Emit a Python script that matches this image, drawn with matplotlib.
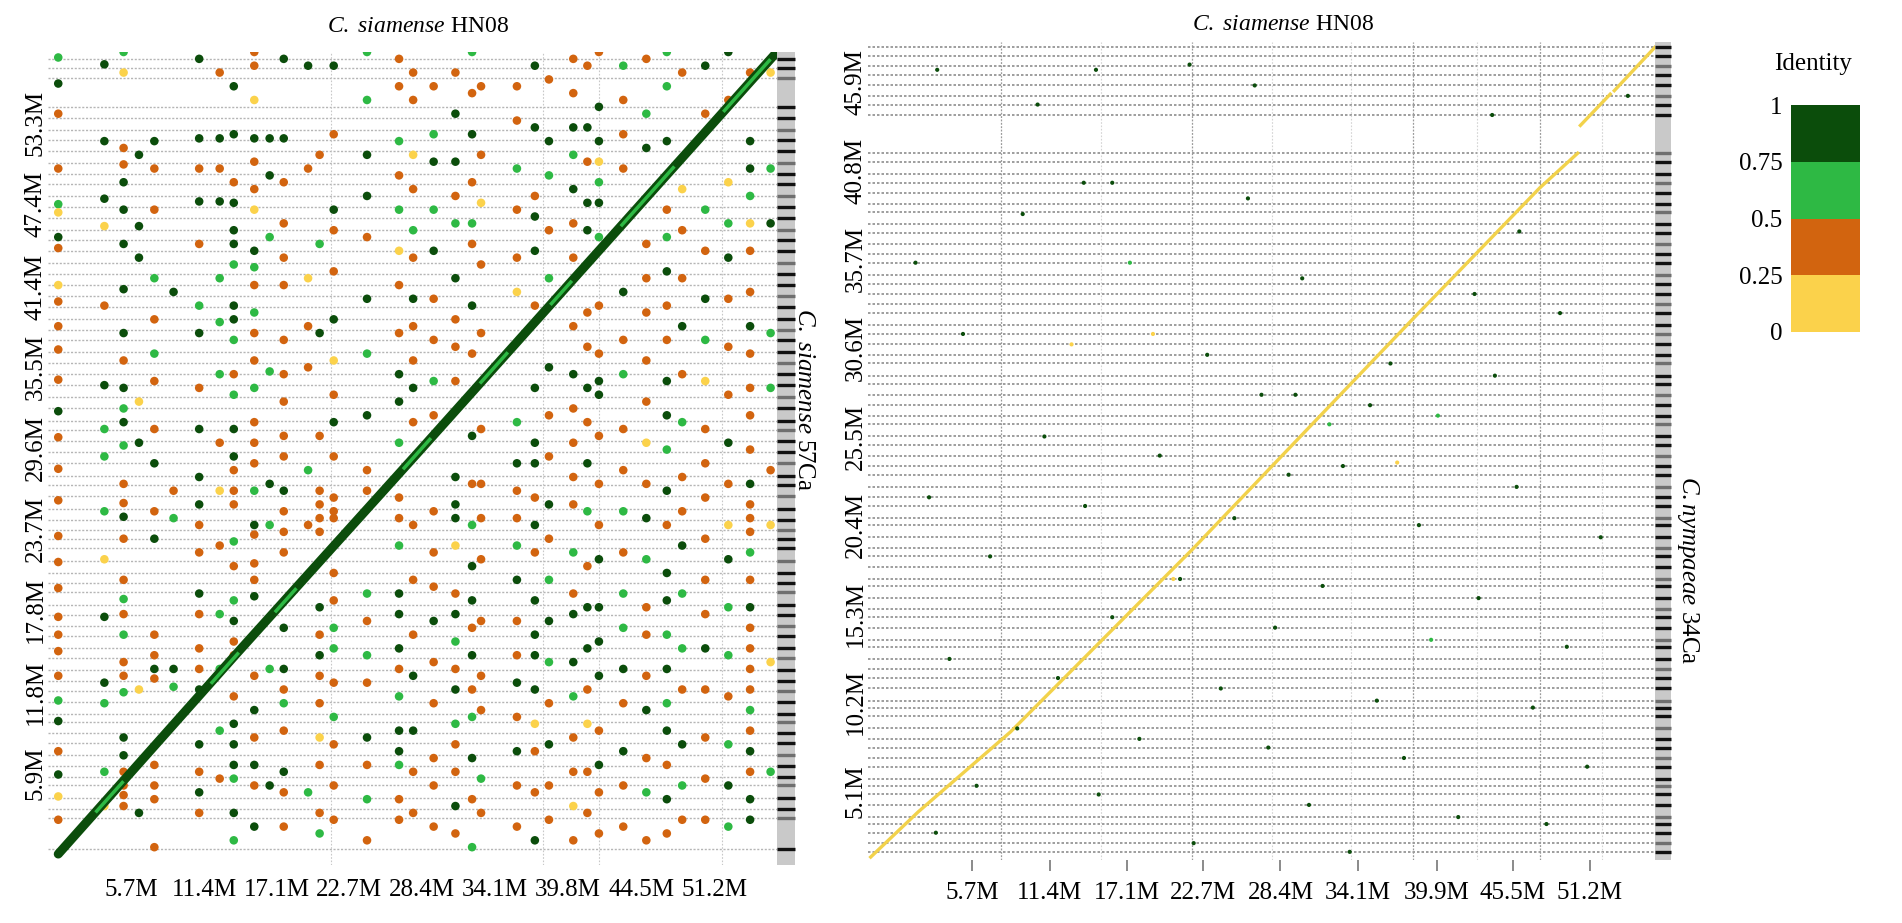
import matplotlib
matplotlib.use('Agg')
import matplotlib.pyplot as plt
from matplotlib import rcParams
from matplotlib.colors import ListedColormap, BoundaryNorm
import matplotlib.transforms as mtransforms

rcParams['font.family'] = 'Liberation Serif'
rcParams['mathtext.fontset'] = 'custom'
rcParams['mathtext.rm'] = 'Liberation Serif'
rcParams['mathtext.it'] = 'Liberation Serif:italic'

# identity classes: 0 -> 0-0.25, 1 -> 0.25-0.5, 2 -> 0.5-0.75, 3 -> 0.75-1
id_colors = ['#FBD24B', '#D2640F', '#2EB944', '#0B4D0B']
id_bounds = [0, 0.25, 0.5, 0.75, 1]
id_ticklabels = ['0', '0.25', '0.5', '0.75', '1']

# ---- left panel: C. siamense HN08 vs C. siamense 57Ca ----
left_xticks = [5.7, 11.4, 17.1, 22.7, 28.4, 34.1, 39.8, 45.5, 51.2]
left_xlabels = ['5.7M', '11.4M', '17.1M', '22.7M', '28.4M', '34.1M', '39.8M', '44.5M', '51.2M']
left_yticks = [5.9, 11.8, 17.8, 23.7, 29.6, 35.5, 41.4, 47.4, 53.3]
left_ylabels = ['5.9M', '11.8M', '17.8M', '23.7M', '29.6M', '35.5M', '41.4M', '47.4M', '53.3M']

left_diag_ref = [0.0, 14.0, 28.0, 42.0, 56.0]
left_diag_qry = [0.0, 14.7, 29.2, 43.8, 58.4]
left_light_ref = [[3.0, 5.0], [12.0, 14.0], [17.0, 18.5], [27.0, 29.0], [33.0, 35.0], [38.5, 40.0], [44.0, 48.0], [52.0, 55.5]]

left_ref_breaks = [21.3, 37.8, 42.2, 51.8]
left_qry_breaks = [0.4, 2.6, 3.3, 4.1, 5.0, 5.6, 6.4, 7.2, 8.1, 8.8, 9.6, 10.2, 11.1, 11.9, 12.6, 13.4,
                   14.3, 15.0, 15.9, 16.6, 17.4, 18.2, 19.1, 19.8, 20.5, 21.4, 22.3, 23.0, 23.6, 24.4,
                   25.2, 26.1, 26.9, 27.6, 28.5, 29.3, 30.1, 30.9, 31.6, 32.5, 33.3, 34.2, 35.0, 35.8,
                   36.6, 37.5, 38.2, 39.0, 39.9, 40.7, 41.5, 42.3, 43.1, 44.0, 44.8, 45.5, 46.4, 47.2,
                   48.0, 48.9, 49.6, 50.4, 51.3, 52.1, 52.8, 53.7, 54.5, 56.6, 57.3, 58.0]

# off-diagonal hits, grouped by reference position (Mb): (query Mb, identity class)
left_col_ref = [0.0, 3.6, 5.1, 6.3, 7.5, 9.0, 11.0, 12.6, 13.7, 15.3, 16.5, 17.6, 19.5, 20.4, 21.5,
                24.1, 26.6, 27.7, 29.3, 31.0, 32.3, 33.0, 35.8, 37.2, 38.3, 40.2, 41.3, 42.2, 44.1,
                45.9, 47.5, 48.7, 50.5, 52.3, 54.0, 55.6]
left_col_hits = [
    [(58.1, 2), (56.2, 3), (54.0, 1), (50.0, 1), (47.4, 2), (46.8, 0), (45.0, 3), (44.2, 1), (41.5, 0), (40.3, 1),
     (38.5, 1), (36.8, 1), (34.6, 1), (32.3, 3), (30.4, 1), (28.1, 1), (25.8, 1), (23.2, 1), (21.3, 1), (19.4, 1),
     (17.3, 1), (16.0, 1), (14.8, 1), (13.0, 1), (11.2, 2), (9.7, 3), (7.5, 1), (5.8, 3), (4.2, 0), (2.5, 1)],
    [(57.6, 3), (52.0, 3), (47.8, 3), (45.8, 0), (40.0, 1), (34.2, 3), (31.0, 2), (29.0, 2), (25.0, 2), (21.5, 0),
     (17.3, 3), (12.5, 3), (11.0, 2), (6.0, 2), (3.5, 0)],
    [(58.5, 2), (57.0, 0), (51.5, 1), (50.3, 1), (49.0, 3), (47.0, 3), (44.5, 3), (41.2, 3), (38.0, 3), (36.0, 1),
     (34.0, 3), (32.5, 2), (31.5, 3), (29.8, 2), (27.0, 1), (25.6, 1), (24.6, 3), (23.0, 1), (20.0, 1), (18.6, 2),
     (17.5, 1), (16.0, 2), (14.0, 1), (13.0, 1), (11.8, 2), (8.5, 3), (7.2, 3), (6.0, 1), (5.0, 1), (4.3, 1), (3.5, 1)],
    [(51.0, 3), (45.8, 3), (43.5, 3), (33.0, 0), (30.0, 3), (12.0, 0), (3.0, 3)],
    [(52.0, 3), (50.0, 1), (47.0, 1), (42.0, 2), (39.0, 1), (36.5, 2), (34.5, 1), (31.0, 1), (28.5, 3), (25.0, 1),
     (23.0, 3), (16.0, 1), (14.5, 1), (13.5, 3), (12.8, 1), (6.5, 1), (5.0, 1), (4.0, 1), (0.5, 1)],
    [(41.0, 3), (26.5, 1), (24.5, 2), (13.5, 3), (12.2, 2)],
    [(58.0, 3), (52.2, 3), (50.0, 1), (47.6, 3), (44.5, 1), (40.0, 2), (38.0, 3), (34.0, 1), (31.0, 3), (27.5, 3),
     (25.5, 3), (24.0, 1), (22.0, 1), (19.0, 3), (17.5, 1), (15.0, 1), (13.5, 1), (12.0, 3), (8.0, 3), (6.0, 1),
     (4.5, 3), (3.0, 1)],
    [(57.0, 1), (52.2, 3), (50.0, 1), (47.6, 3), (42.0, 2), (38.8, 2), (35.0, 2), (30.0, 1), (26.5, 0), (22.5, 1),
     (17.5, 2), (13.5, 2), (9.0, 2), (5.5, 1)],
    [(56.0, 3), (52.5, 3), (49.0, 1), (47.5, 3), (45.5, 3), (44.5, 3), (43.0, 2), (40.0, 3), (39.0, 3), (37.5, 2),
     (35.0, 1), (33.5, 2), (31.0, 3), (29.0, 3), (28.0, 1), (26.5, 1), (25.5, 1), (22.8, 2), (21.0, 1), (18.5, 2),
     (17.0, 3), (15.5, 1), (14.5, 1), (11.5, 1), (9.5, 3), (8.0, 3), (6.5, 3), (5.5, 2), (3.0, 3), (1.0, 2)],
    [(58.5, 1), (57.5, 1), (55.0, 0), (52.2, 3), (50.5, 1), (48.5, 1), (47.0, 0), (44.0, 3), (42.8, 2), (41.5, 1),
     (39.5, 2), (38.0, 1), (36.0, 1), (34.0, 2), (31.5, 1), (30.0, 1), (28.5, 1), (26.5, 2), (24.0, 3), (23.3, 1),
     (21.2, 1), (20.0, 1), (18.8, 3), (13.0, 1), (10.5, 3), (8.5, 1), (6.5, 3), (5.0, 1), (2.0, 3)],
    [(52.2, 3), (49.5, 3), (45.0, 2), (35.2, 2), (27.0, 3), (24.0, 2), (13.5, 2), (5.0, 3)],
    [(58.0, 3), (52.2, 3), (49.0, 1), (46.0, 1), (43.5, 1), (41.5, 1), (37.5, 1), (35.0, 1), (33.0, 1), (30.5, 1),
     (29.0, 1), (26.5, 3), (25.0, 1), (23.5, 1), (22.0, 1), (16.5, 3), (13.5, 3), (12.0, 1), (11.0, 2), (9.0, 1),
     (6.0, 3), (4.5, 1), (2.0, 1)],
    [(57.5, 3), (50.0, 1), (42.0, 0), (38.5, 1), (35.5, 1), (28.0, 2), (24.0, 1), (4.5, 2)],
    [(51.0, 1), (44.5, 2), (38.0, 3), (30.5, 1), (26.5, 1), (25.5, 1), (24.5, 1), (23.5, 1), (18.0, 3), (16.0, 1),
     (14.5, 3), (13.0, 1), (11.0, 1), (8.5, 0), (6.5, 1), (3.0, 1), (1.5, 2)],
    [(57.5, 3), (52.5, 1), (47.0, 3), (45.5, 1), (42.5, 1), (39.0, 3), (36.0, 0), (33.5, 1), (31.5, 3), (29.0, 1),
     (26.0, 1), (25.0, 1), (24.5, 1), (20.5, 1), (18.5, 1), (16.5, 2), (15.0, 2), (12.5, 1), (10.0, 2), (8.0, 1),
     (5.0, 1), (2.5, 1)],
    [(58.5, 2), (55.0, 2), (51.0, 3), (48.0, 3), (45.0, 1), (40.5, 3), (36.5, 2), (32.0, 3), (28.0, 1), (26.5, 1),
     (19.0, 2), (17.0, 1), (14.5, 2), (12.5, 1), (8.5, 3), (6.5, 1), (4.0, 2), (1.0, 1)],
    [(58.0, 1), (56.0, 1), (52.0, 2), (49.5, 1), (47.0, 2), (44.0, 0), (41.5, 1), (38.0, 1), (35.0, 3), (33.0, 3),
     (30.0, 2), (26.0, 1), (24.5, 1), (22.5, 2), (19.0, 3), (17.5, 3), (15.0, 3), (13.5, 1), (11.5, 2), (9.0, 3),
     (7.5, 3), (6.5, 2), (4.0, 1), (2.5, 1)],
    [(57.0, 1), (55.0, 1), (51.0, 0), (48.5, 1), (45.5, 2), (43.5, 1), (40.5, 3), (38.5, 1), (36.0, 1), (34.0, 3),
     (31.5, 1), (24.0, 1), (20.0, 1), (16.0, 1), (13.0, 3), (9.0, 3), (6.0, 1), (3.0, 1)],
    [(56.0, 1), (52.5, 2), (50.5, 3), (47.0, 2), (44.0, 3), (40.5, 1), (37.5, 1), (34.5, 2), (32.0, 1), (25.0, 1),
     (22.0, 1), (19.5, 1), (17.0, 3), (14.0, 1), (11.0, 1), (7.0, 1), (5.0, 1), (2.0, 1)],
    [(57.0, 1), (54.0, 3), (50.5, 3), (48.0, 1), (46.0, 2), (42.0, 3), (39.0, 1), (37.0, 1), (34.5, 1), (27.5, 3),
     (25.5, 3), (24.5, 3), (22.5, 0), (19.0, 1), (17.5, 3), (15.5, 2), (13.5, 1), (12.0, 3), (9.5, 2), (8.0, 1),
     (6.0, 1), (3.5, 3), (1.5, 1)],
    [(58.5, 2), (55.5, 1), (52.5, 3), (49.0, 1), (46.0, 2), (44.5, 1), (40.0, 3), (36.5, 1), (30.5, 3), (27.0, 1),
     (24.0, 2), (21.0, 3), (18.5, 3), (16.5, 1), (14.5, 3), (12.0, 1), (10.0, 2), (7.0, 3), (4.0, 1), (0.5, 2)],
    [(56.0, 1), (51.0, 1), (47.5, 0), (43.0, 1), (38.0, 1), (31.0, 1), (27.0, 1), (24.5, 1), (21.5, 1), (17.0, 1),
     (13.0, 1), (10.5, 1), (5.5, 2), (3.0, 1)],
    [(56.0, 1), (53.5, 1), (50.0, 2), (47.0, 1), (43.5, 1), (41.0, 0), (31.5, 2), (28.5, 3), (26.5, 1), (24.5, 1),
     (22.5, 2), (20.0, 3), (17.0, 1), (14.5, 1), (12.5, 3), (10.0, 1), (7.5, 3), (5.0, 1), (2.0, 1)],
    [(57.5, 3), (53.0, 3), (48.0, 1), (46.5, 3), (44.0, 3), (40.0, 1), (34.0, 3), (30.0, 3), (28.5, 3), (26.0, 1),
     (24.0, 3), (22.0, 1), (18.5, 3), (16.0, 3), (14.5, 3), (12.0, 3), (9.5, 0), (7.5, 1), (4.5, 1), (1.0, 3)],
    [(56.5, 1), (52.0, 3), (49.5, 2), (45.5, 1), (42.0, 2), (35.5, 3), (32.0, 1), (29.0, 1), (25.5, 3), (23.0, 1),
     (20.0, 2), (17.0, 3), (14.0, 2), (11.0, 1), (8.0, 3), (5.0, 1), (2.5, 1)],
    [(58.0, 1), (55.5, 1), (53.0, 3), (51.0, 2), (48.5, 3), (46.0, 1), (43.5, 1), (38.5, 1), (35.0, 3), (32.5, 1),
     (30.0, 1), (27.5, 1), (25.5, 1), (22.0, 2), (19.0, 1), (17.5, 3), (14.0, 3), (11.5, 2), (8.5, 1), (6.0, 1),
     (3.5, 0), (1.0, 1)],
    [(57.5, 1), (53.0, 3), (50.5, 1), (47.5, 3), (45.5, 3), (39.5, 1), (37.0, 1), (34.0, 3), (31.5, 1), (28.5, 3),
     (25.0, 2), (21.0, 1), (18.0, 3), (15.0, 3), (12.0, 1), (9.5, 0), (6.0, 1), (3.0, 1)],
    [(58.5, 1), (54.5, 3), (52.0, 3), (50.5, 0), (49.0, 2), (47.5, 3), (45.0, 2), (40.0, 1), (36.5, 1), (34.5, 3),
     (33.5, 3), (30.5, 1), (27.0, 1), (24.0, 1), (21.5, 3), (18.0, 3), (15.5, 3), (13.0, 3), (9.0, 1), (6.5, 3),
     (4.5, 1), (1.5, 1)],
    [(57.5, 2), (55.0, 1), (52.5, 1), (50.0, 1), (41.0, 3), (37.5, 1), (35.0, 2), (31.0, 1), (28.0, 1), (25.0, 2),
     (22.0, 1), (19.0, 2), (16.5, 2), (13.5, 3), (11.0, 1), (7.5, 3), (5.0, 1), (2.0, 1)],
    [(58.0, 1), (54.0, 2), (51.5, 3), (44.5, 1), (42.0, 1), (39.5, 1), (36.0, 1), (33.0, 1), (30.0, 0), (27.0, 1),
     (24.5, 3), (21.5, 2), (18.0, 1), (16.0, 1), (13.0, 1), (10.5, 3), (7.0, 1), (4.5, 2), (1.0, 1)],
    [(58.5, 2), (56.0, 2), (52.0, 3), (47.0, 1), (45.0, 2), (42.5, 3), (40.0, 1), (37.5, 1), (34.5, 3), (32.0, 3),
     (29.5, 2), (26.5, 3), (24.0, 1), (20.5, 3), (18.5, 3), (16.0, 2), (13.5, 3), (11.0, 2), (9.0, 3), (6.5, 1),
     (4.0, 3), (1.5, 1)],
    [(57.0, 1), (48.5, 0), (45.5, 1), (42.0, 1), (38.5, 3), (35.0, 1), (31.5, 2), (27.5, 1), (25.0, 1), (22.5, 3),
     (19.0, 2), (15.0, 2), (12.0, 1), (8.0, 3), (5.0, 2), (2.5, 1)],
    [(57.5, 3), (54.0, 1), (47.0, 2), (44.0, 1), (40.5, 3), (37.5, 2), (34.5, 0), (31.0, 1), (28.5, 1), (26.0, 1),
     (23.0, 1), (20.0, 1), (17.5, 1), (15.0, 3), (12.0, 1), (8.5, 1), (5.5, 1), (2.5, 1)],
    [(58.5, 3), (55.0, 1), (49.0, 0), (46.0, 2), (43.5, 3), (40.5, 1), (37.0, 1), (33.5, 1), (30.0, 3), (27.0, 1),
     (24.0, 0), (21.5, 3), (18.0, 2), (14.5, 2), (11.5, 1), (8.0, 2), (5.0, 3), (2.0, 2)],
    [(57.0, 1), (52.0, 3), (50.0, 3), (48.0, 2), (46.0, 0), (44.0, 1), (41.0, 1), (38.5, 3), (36.5, 1), (34.0, 1),
     (32.0, 1), (29.5, 1), (27.0, 3), (25.5, 1), (24.5, 1), (23.5, 1), (22.0, 2), (20.0, 1), (18.0, 3), (16.5, 1),
     (15.0, 1), (13.5, 1), (12.0, 1), (10.5, 2), (9.0, 1), (7.5, 3), (6.0, 1), (4.0, 3), (2.5, 3)],
    [(57.0, 0), (50.0, 2), (46.0, 3), (38.0, 2), (34.0, 2), (28.0, 1), (24.0, 0), (14.0, 0), (6.0, 2)],
]

# ---- right panel: C. siamense HN08 vs C. nympaeae 34Ca ----
right_xticks = [5.7, 11.4, 17.1, 22.7, 28.4, 34.1, 39.9, 45.5, 51.2]
right_xlabels = ['5.7M', '11.4M', '17.1M', '22.7M', '28.4M', '34.1M', '39.9M', '45.5M', '51.2M']
right_yticks = [5.1, 10.2, 15.3, 20.4, 25.5, 30.6, 35.7, 40.8, 45.9]
right_ylabels = ['5.1M', '10.2M', '15.3M', '20.4M', '25.5M', '30.6M', '35.7M', '40.8M', '45.9M']

right_diag1_ref = [-1.8, 1.7, 8.5, 21.9, 38.2, 47.5, 50.3]
right_diag1_qry = [1.3, 3.9, 8.5, 19.0, 32.3, 39.8, 41.8]
right_diag2_ref = [50.5, 52.7]
right_diag2_qry = [43.4, 45.2]
right_diag3_ref = [53.0, 56.0]
right_diag3_qry = [45.4, 47.9]

right_ref_breaks_major = [7.8, 21.9, 38.2, 47.5]
right_ref_breaks_minor = [15.2, 27.8, 33.6, 42.9, 52.1]
right_qry_breaks = [1.6, 2.1, 2.7, 3.2, 3.6, 4.3, 4.9, 5.4, 5.8, 6.5, 7.0, 7.6, 8.1, 8.7, 9.4, 9.9, 10.3,
                    11.0, 11.6, 12.1, 12.7, 13.4, 13.8, 14.5, 15.1, 15.6, 16.2, 16.9, 17.3, 18.0, 18.6, 19.1,
                    19.7, 20.4, 20.8, 21.5, 22.0, 22.6, 23.3, 23.8, 24.4, 25.0, 25.5, 26.2, 26.7, 27.3, 27.9,
                    28.5, 29.0, 29.7, 30.2, 30.8, 31.4, 31.9, 32.6, 33.1, 33.7, 34.3, 34.8, 35.5, 36.0, 36.6,
                    37.2, 37.7, 38.4, 38.9, 39.5, 40.1, 40.6, 41.3, 41.8, 44.0, 44.6, 45.1, 45.7, 46.3, 46.8,
                    47.4, 47.9]

right_dot_ref = [3.1, 14.8, 21.7, 13.9, 16.0, 9.4, 26.0, 46.0, 1.5, 17.3, 30.0, 42.7, 49.0, 5.0, 23.0,
                 36.5, 44.2, 27.0, 29.5, 35.0, 40.0, 11.0, 19.5, 33.0, 45.8, 2.5, 14.0, 25.0, 38.6, 52.0,
                 7.0, 21.0, 31.5, 43.0, 16.0, 28.0, 39.5, 49.5, 4.0, 12.0, 24.0, 35.5, 47.0, 9.0, 18.0,
                 27.5, 37.5, 51.0, 6.0, 15.0, 30.5, 41.5, 3.0, 22.0, 33.5, 48.0, 10.5, 26.5, 44.0, 54.0,
                 13.0, 19.0, 32.0, 37.0, 20.5, 29.0]
right_dot_qry = [46.6, 46.6, 46.9, 40.1, 40.1, 38.3, 39.2, 37.3, 35.5, 35.5, 34.6, 33.7, 32.6, 31.4, 30.2,
                 29.7, 29.0, 27.9, 27.9, 27.3, 26.7, 25.5, 24.4, 23.8, 22.6, 22.0, 21.5, 20.8, 20.4, 19.7,
                 18.6, 17.3, 16.9, 16.2, 15.1, 14.5, 13.8, 13.4, 12.7, 11.6, 11.0, 10.3, 9.9, 8.7, 8.1,
                 7.6, 7.0, 6.5, 5.4, 4.9, 4.3, 3.6, 2.7, 2.1, 1.6, 3.2, 44.6, 45.7, 44.0, 45.1,
                 30.8, 31.4, 26.2, 24.0, 17.3, 23.3]
right_dot_id = [3, 3, 3, 3, 3, 3, 3, 3, 3, 2, 3, 3, 3, 3, 3,
                3, 3, 3, 3, 3, 2, 3, 3, 3, 3, 3, 3, 3, 3, 3,
                3, 3, 3, 3, 3, 3, 2, 3, 3, 3, 3, 3, 3, 3, 3,
                3, 3, 3, 3, 3, 3, 3, 3, 3, 3, 3, 3, 3, 3, 3,
                0, 0, 2, 0, 0, 3]

fig = plt.figure(figsize=(19.02, 9.23), dpi=100)
ax1 = fig.add_axes([48 / 1902, 1 - 865 / 923, 729 / 1902, 813 / 923])
ax2 = fig.add_axes([868 / 1902, 1 - 860 / 923, 787 / 1902, 818 / 923])
cax = fig.add_axes([1791 / 1902, 1 - 332 / 923, 69 / 1902, 227 / 923])


def draw_grid(ax, qry_breaks, line_color, line_w, strip_w):
    for y in qry_breaks:
        ax.axhline(y, color=line_color, lw=line_w, ls=(0, (1.5, 1.2)), zorder=1)
    # scaffold barcode on the right side
    trans = mtransforms.blended_transform_factory(ax.transAxes, ax.transData)
    ax.add_patch(plt.Rectangle((1.0, 0), strip_w, 1, transform=ax.transAxes,
                               facecolor='#c9c9c9', edgecolor='none', clip_on=False))
    for i, y in enumerate(qry_breaks):
        c = '#111111' if i % 3 != 1 else '#6f6f6f'
        ax.plot([1.0, 1.0 + strip_w], [y, y], transform=trans, color=c, lw=2.4,
                clip_on=False, solid_capstyle='butt')


# left panel
draw_grid(ax1, left_qry_breaks, '#b5b5b5', 1.0, 0.025)
for x in left_ref_breaks:
    ax1.axvline(x, color='#c8c8c8', lw=0.8, ls=(0, (1.5, 1.5)), zorder=1)
for cx, hits in zip(left_col_ref, left_col_hits):
    ax1.scatter([cx] * len(hits), [h[0] for h in hits], s=38,
                c=[id_colors[h[1]] for h in hits], edgecolors='none', zorder=3)
ax1.plot(left_diag_ref, left_diag_qry, color=id_colors[3], lw=6.5, solid_capstyle='round', zorder=4)
for r0, r1 in left_light_ref:
    ax1.plot([r0, r1], [r0 * 58.4 / 56.0, r1 * 58.4 / 56.0], color=id_colors[2], lw=2.5, zorder=5)
ax1.set_xlim(-0.8, 56.1)
ax1.set_ylim(-0.8, 58.5)

# right panel
draw_grid(ax2, right_qry_breaks, '#8e8e8e', 1.2, 0.02)
for x in right_ref_breaks_major:
    ax2.axvline(x, color='#9a9a9a', lw=0.9, ls=(0, (1.5, 1.2)), zorder=1)
for x in right_ref_breaks_minor:
    ax2.axvline(x, color='#d4d4d4', lw=0.8, ls=(0, (1.5, 1.5)), zorder=1)
ax2.plot(right_diag1_ref, right_diag1_qry, color='#F2D24B', lw=2.4, zorder=4)
ax2.plot(right_diag2_ref, right_diag2_qry, color='#F2D24B', lw=2.4, zorder=4)
ax2.plot(right_diag3_ref, right_diag3_qry, color='#F2D24B', lw=2.4, zorder=4)
ax2.scatter(right_dot_ref, right_dot_qry, s=9, c=[id_colors[i] for i in right_dot_id],
            edgecolors='none', zorder=5)
ax2.set_xlim(-2.0, 56.0)
ax2.set_ylim(1.13, 48.2)

for ax, xt, xl, yt, yl in [(ax1, left_xticks, left_xlabels, left_yticks, left_ylabels),
                           (ax2, right_xticks, right_xlabels, right_yticks, right_ylabels)]:
    ax.set_xticks(xt)
    ax.set_xticklabels(xl, fontsize=18)
    ax.set_yticks(yt)
    ax.set_yticklabels(yl, fontsize=18, rotation=90, va='center')
    for s in ax.spines.values():
        s.set_visible(False)
    ax.tick_params(axis='y', length=0, pad=1)
ax1.tick_params(axis='x', length=0, pad=10)
ax2.tick_params(axis='x', length=8, width=1.2, color='#777777', pad=8)

# titles and axis names
fig.text(418 / 1902, 1 - 27 / 923, r'$\it{C.\ siamense}$ HN08', ha='center', va='center', fontsize=17)
fig.text(1283 / 1902, 1 - 25 / 923, r'$\it{C.\ siamense}$ HN08', ha='center', va='center', fontsize=17)
fig.text(804 / 1902, 1 - 400 / 923, r'$\it{C.\ siamense}$ 57Ca', ha='center', va='center',
         rotation=270, fontsize=18)
fig.text(1688 / 1902, 1 - 570 / 923, r'$\it{C.nympaeae}$ 34Ca', ha='center', va='center',
         rotation=270, fontsize=18)

# identity legend
cmap = ListedColormap(id_colors)
norm = BoundaryNorm(id_bounds, cmap.N)
sm = plt.cm.ScalarMappable(cmap=cmap, norm=norm)
cb = fig.colorbar(sm, cax=cax, ticks=id_bounds)
cb.outline.set_visible(False)
cax.yaxis.set_ticks_position('left')
cax.set_yticklabels(id_ticklabels, fontsize=18)
cax.tick_params(length=0, pad=6)
fig.text(1813 / 1902, 1 - 64 / 923, 'Identity', ha='center', va='center', fontsize=18)

fig.savefig('out.png', dpi=100)
